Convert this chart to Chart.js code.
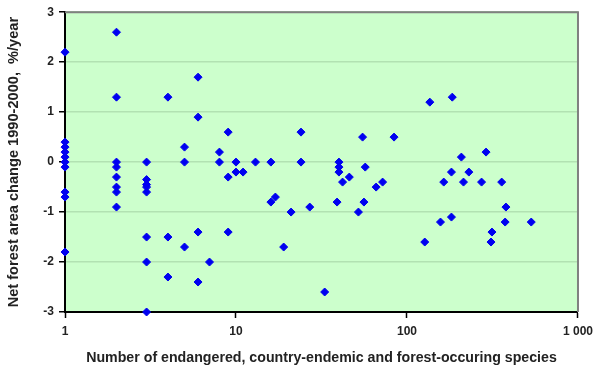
<!DOCTYPE html>
<html>
<head>
<meta charset="utf-8">
<script src="https://cdn.jsdelivr.net/npm/chart.js@4/dist/chart.umd.min.js"></script>
<style>
  html, body { margin: 0; padding: 0; background: #fff; }
  #wrap { width: 599px; height: 370px; }
</style>
</head>
<body>
<div id="wrap"><canvas id="chart"></canvas></div>
<script>
// ── Data ────────────────────────────────────────────────
const speciesCounts = [
  1, 1, 1, 1, 1, 1, 1, 1, 1, 1,
  2, 2, 2, 2, 2, 2, 2, 2,
  3, 3, 3, 3, 3, 3, 3, 3,
  4, 4, 4, 5, 5, 5, 6, 6, 6, 6, 7, 8, 8,
  9, 9, 9, 10, 10, 11, 13, 16, 16, 17, 19, 21,
  24, 24, 27, 33, 39, 40, 40, 40, 42, 46, 52, 55, 56, 57, 66, 72, 84,
  127, 136, 157, 164, 182, 182, 184, 208, 214, 230, 273, 290, 310, 314, 358, 375, 379, 533
];
const forestChange = [
  2.2, 0.4, 0.3, 0.2, 0.1, 0, -0.1, -0.6, -0.7, -1.8,
  2.6, 1.3, 0, -0.1, -0.3, -0.5, -0.6, -0.9,
  0, -0.35, -0.45, -0.5, -0.6, -1.5, -2.0, -3.0,
  1.3, -1.5, -2.3, 0.3, 0, -1.7, 1.7, 0.9, -1.4, -2.4, -2.0, 0.2, 0,
  0.6, -0.3, -1.4, 0, -0.2, -0.2, 0, 0, -0.8, -0.7, -1.7, -1.0,
  0.6, 0, -0.9, -2.6, -0.8, 0, -0.1, -0.2, -0.4, -0.3, -1.0, 0.5, -0.8, -0.1, -0.5, -0.4, 0.5,
  -1.6, 1.2, -1.2, -0.4, -0.2, -1.1, 1.3, 0.1, -0.4, -0.2, -0.4, 0.2, -1.6, -1.4, -0.4, -1.2, -0.9, -1.2
];
const xTicks = [1, 10, 100, 1000];
const xTickLabels = ['1', '10', '100', '1 000'];
const yTicks = [-3, -2, -1, 0, 1, 2, 3];

const xTitle = 'Number of endangered, country-endemic and forest-occuring species';
const yTitle = 'Net forest area change 1990-2000,  %/year';

// ── Plot area background and grey frame ─────────────────
const plotFrame = {
  id: 'plotFrame',
  beforeDraw(chart) {
    const { ctx, chartArea: a } = chart;
    ctx.save();
    ctx.fillStyle = '#ccffcc';
    ctx.fillRect(a.left, a.top, a.right - a.left, a.bottom - a.top);
    ctx.restore();
  },
  beforeDatasetsDraw(chart) {
    const { ctx, chartArea: a } = chart;
    ctx.save();
    ctx.strokeStyle = '#808080';
    ctx.lineWidth = 2;
    ctx.beginPath();
    ctx.moveTo(a.left, a.top);
    ctx.lineTo(a.right, a.top);
    ctx.lineTo(a.right, a.bottom);
    ctx.stroke();
    ctx.restore();
  }
};

const family = "'Liberation Sans', Arial, sans-serif";
const tickFont = { family, size: 12, weight: 'bold' };

new Chart(document.getElementById('chart'), {
  type: 'scatter',
  data: {
    datasets: [{
      data: speciesCounts.map((x, i) => ({ x, y: forestChange[i] })),
      pointStyle: 'rectRot',
      pointRadius: 4,
      pointHoverRadius: 4,
      backgroundColor: '#0000f0',
      borderColor: '#0000f0',
      borderWidth: 1,
      clip: false
    }]
  },
  options: {
    responsive: true,
    maintainAspectRatio: false,
    animation: false,
    layout: { padding: { top: 12, right: 21, left: 0, bottom: 0 } },
    plugins: {
      legend: { display: false },
      tooltip: { enabled: false }
    },
    scales: {
      x: {
        type: 'logarithmic',
        min: 1,
        max: 1000,
        afterBuildTicks: (s) => { s.ticks = xTicks.map(v => ({ value: v })); },
        afterFit: (s) => { s.height = 58; },
        grid: { drawOnChartArea: false, drawTicks: true, tickLength: 6, tickColor: '#000', tickWidth: 1.5 },
        border: { color: '#000', width: 2 },
        ticks: {
          padding: 6,
          maxRotation: 0,
          autoSkip: false,
          color: '#222',
          font: tickFont,
          callback: (v) => { const i = xTicks.indexOf(v); return i >= 0 ? xTickLabels[i] : ''; }
        },
        title: {
          display: true, text: xTitle, color: '#222',
          font: { family, size: 14.2, weight: 'bold' },
          padding: { top: 3, bottom: 3.5 }
        }
      },
      y: {
        min: -3,
        max: 3,
        afterBuildTicks: (s) => { s.ticks = yTicks.map(v => ({ value: v })); },
        afterFit: (s) => { s.width = 65; },
        grid: { color: '#b2e2b2', lineWidth: 1.5, tickLength: 6, tickColor: '#000', tickWidth: 1.5 },
        border: { color: '#000', width: 2 },
        ticks: { padding: 5, color: '#222', font: tickFont },
        title: {
          display: true, text: yTitle, color: '#222',
          font: { family, size: 14.6, weight: 'bold' },
          padding: { top: 5, bottom: 2 }
        }
      }
    }
  },
  plugins: [plotFrame]
});
</script>
</body>
</html>
